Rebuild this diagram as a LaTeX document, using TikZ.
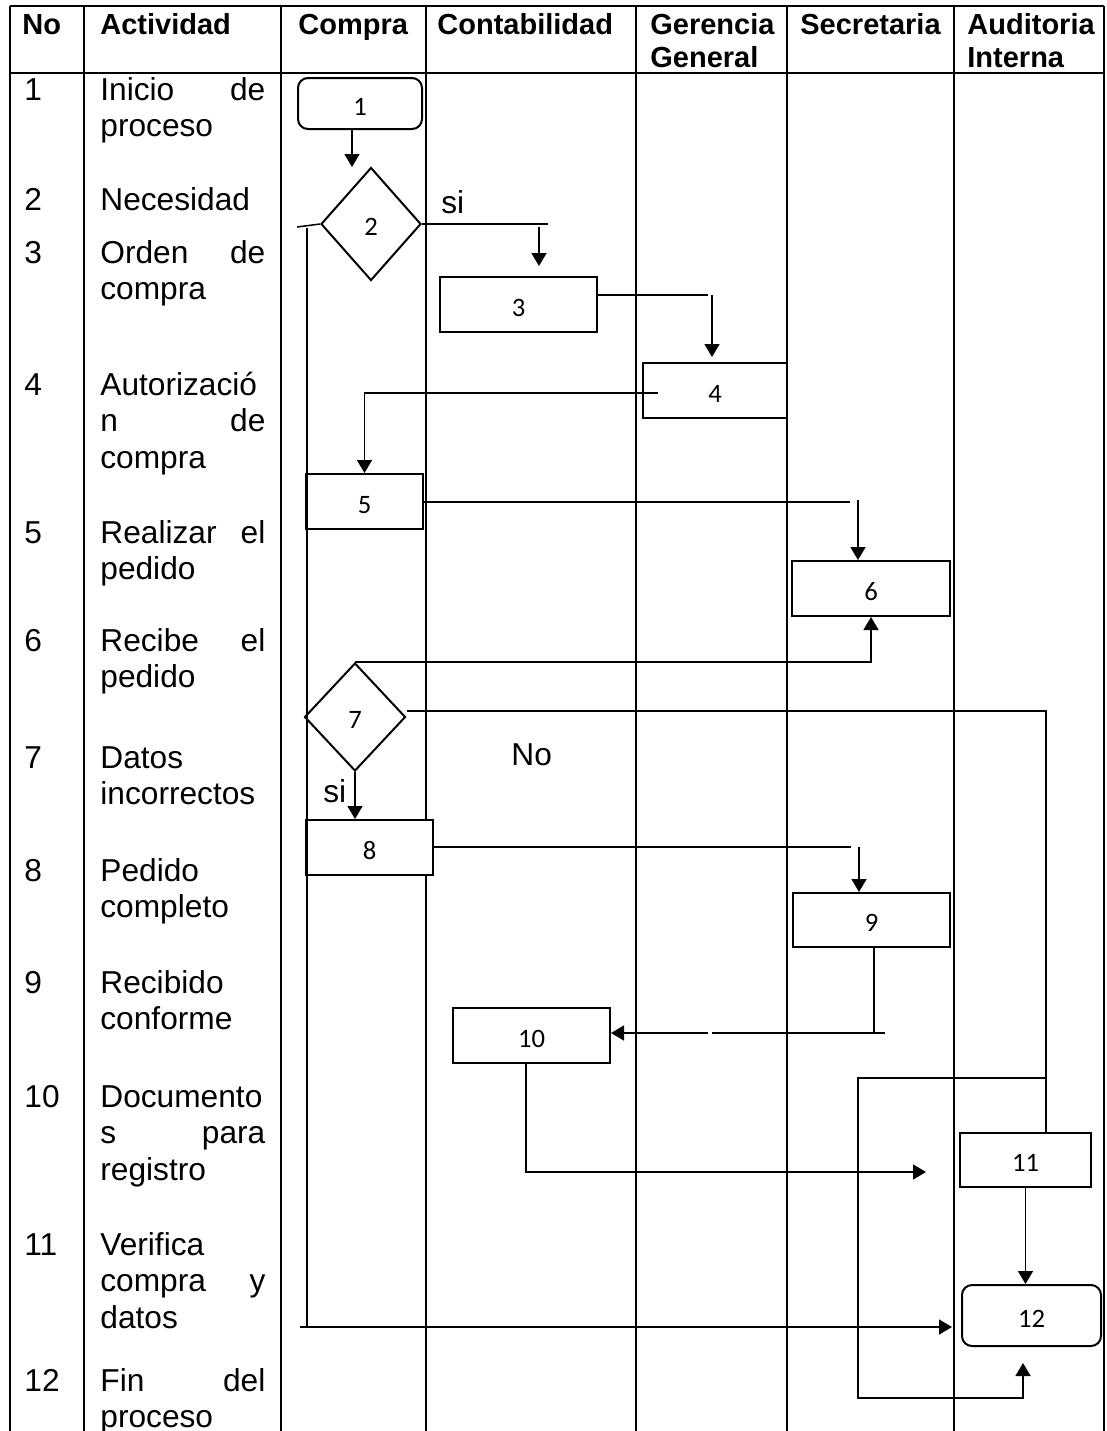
\documentclass[tikz,border=0pt]{standalone}
\usepackage{fontspec}
\setmainfont{Liberation Sans}
\newfontfamily\boxfont{Carlito}
\usetikzlibrary{shapes.geometric,arrows.meta}

\tikzset{
  grid/.style={line width=1pt},
  hdr/.style={font=\bfseries\fontsize{14.5}{16.7}\selectfont, anchor=base west, inner sep=0pt, text width=90pt, align=left},
  act/.style={font=\fontsize{15.84}{18.25}\selectfont, anchor=base west, inner sep=0pt, text width=82.5pt},
  rowno/.style={font=\fontsize{15.84}{18.25}\selectfont, anchor=base west, inner sep=0pt},
  proc/.style={draw, line width=1pt, fill=white, inner sep=0pt, text height=11.5pt, text depth=0pt, font=\boxfont\fontsize{13.3}{14}\selectfont},
  term/.style={proc, rounded corners=5pt},
  deci/.style={proc, diamond},
  conn/.style={line width=0.75pt},
  arr/.style={conn, -{Triangle[length=6.5pt,width=7.5pt]}},
  lbl/.style={font=\fontsize{15.84}{18}\selectfont, anchor=base west, inner sep=0pt},
}

\begin{document}
\begin{tikzpicture}[x=0.5pt,y=-0.5pt]
  \useasboundingbox (0,0) rectangle (1107,1431);

  % table
  \draw[grid] (10,6) -- (1104,6) (10,73) -- (1104,73);
  \draw[grid] (10,6) -- (10,1431) (84,6) -- (84,1431) (281,6) -- (281,1431)
    (426,6) -- (426,1431) (636,6) -- (636,1431) (787,6) -- (787,1431)
    (954,6) -- (954,1431) (1104,6) -- (1104,1431);

  \node[hdr] (hNo) at (22,34) {No};
  \node[hdr] (hAct) at (100,34) {Actividad};
  \node[hdr] (hCom) at (298,34) {Compra};
  \node[hdr] (hCon) at (437,34) {Contabilidad};
  \node[hdr] (hGer) at (650,34) {Gerencia\\General};
  \node[hdr] (hSec) at (800,34) {Secretaria};
  \node[hdr] (hAud) at (967,34) {Auditoria\\Interna};

  % activities
  \node[rowno] (no1) at (24,100) {1};
  \node[act] (r1) at (100,100) {Inicio\hfill de\\proceso};
  \node[rowno] (no2) at (24,210) {2};
  \node[act] (r2) at (100,210) {Necesidad};
  \node[rowno] (no3) at (24,263) {3};
  \node[act] (r3) at (100,263) {Orden\hfill de\\compra};
  \node[rowno] (no4) at (24,395) {4};
  \node[act] (r4) at (100,395) {Autorizació\\n\hfill de\\compra};
  \node[rowno] (no5) at (24,543) {5};
  \node[act] (r5) at (100,543) {Realizar\hfill el\\pedido};
  \node[rowno] (no6) at (24,651) {6};
  \node[act] (r6) at (100,651) {Recibe\hfill el\\pedido};
  \node[rowno] (no7) at (24,768) {7};
  \node[act] (r7) at (100,768) {Datos\\incorrectos};
  \node[rowno] (no8) at (24,881) {8};
  \node[act] (r8) at (100,881) {Pedido\\completo};
  \node[rowno] (no9) at (24,993) {9};
  \node[act] (r9) at (100,993) {Recibido\\conforme};
  \node[rowno] (no10) at (24,1107) {10};
  \node[act] (r10) at (100,1107) {Documento\\s\hfill para\\registro};
  \node[rowno] (no11) at (24,1255) {11};
  \node[act] (r11) at (100,1255) {Verifica\\compra\hfill y\\datos};
  \node[rowno] (no12) at (24,1391) {12};
  \node[act] (r12) at (100,1391) {Fin\hfill del\\proceso};

  % flow shapes
  \node[term, minimum width=62pt, minimum height=25.5pt] (n1) at (360,103.5) {1};
  \node[deci, minimum width=50pt, minimum height=56.5pt] (n2) at (371,224) {2};
  \node[proc, minimum width=78.5pt, minimum height=27.5pt] (n3) at (518.5,304.5) {3};
  \node[proc, minimum width=72pt, minimum height=27.5pt] (n4) at (715,390.5) {4};
  \node[proc, minimum width=58.5pt, minimum height=27.5pt] (n5) at (364.5,501.5) {5};
  \node[proc, minimum width=79pt, minimum height=27.5pt] (n6) at (871,588.5) {6};
  \node[deci, minimum width=50.5pt, minimum height=54pt] (n7) at (355,717) {7};
  \node[proc, minimum width=63.5pt, minimum height=27.5pt] (n8) at (369.5,847.5) {8};
  \node[proc, minimum width=78.5pt, minimum height=27pt] (n9) at (871.5,920) {9};
  \node[proc, minimum width=78.5pt, minimum height=27.5pt] (n10) at (531.5,1035.5) {10};
  \node[proc, minimum width=65.5pt, minimum height=27pt] (n11) at (1025.5,1160) {11};
  \node[term, minimum width=69.5pt, minimum height=30.5pt] (n12) at (1031.5,1315.5) {12};

  % connectors
  \coordinate (a12) at (352,167);
  \draw[arr] (n1.south -| a12) -- (a12);

  \coordinate (s2) at (548,224);
  \draw[conn] (n2.east) -- (s2);
  \coordinate (t23) at (539,227);
  \coordinate (a23) at (539,266);
  \draw[arr] (t23) -- (a23);
  \node[lbl] (si2) at (441,213) {si};

  \coordinate (s34) at (708,295);
  \draw[conn] (n3.east |- s34) -- (s34);
  \coordinate (t34) at (712,295);
  \coordinate (a34) at (712,357);
  \draw[arr] (t34) -- (a34);

  \coordinate (s45) at (658,393);
  \draw[arr] (s45) -| (n5.north);

  \coordinate (s56) at (850,502);
  \draw[conn] (n5.east |- s56) -- (s56);
  \coordinate (t56) at (858,500);
  \draw[arr] (t56) -- (t56 |- n6.north);

  \draw[arr] (n7.north) -| (n6.south);

  \coordinate (k7) at (1046,711);
  \draw[conn] (n7.east |- k7) -- (k7) -- (k7 |- n11.north);
  \node[lbl] (no7l) at (511,765) {No};

  \draw[arr] (n7.south) -- (n7.south |- n8.north);
  \node[lbl] (si7) at (323,802) {si};

  \coordinate (s89) at (851,847);
  \draw[conn] (n8.east |- s89) -- (s89);
  \coordinate (t89) at (859,847);
  \draw[arr] (t89) -- (t89 |- n9.north);

  \coordinate (k9) at (874,1033);
  \draw[conn] (n9.south -| k9) -- (k9);
  \coordinate (s910) at (885,1033);
  \coordinate (e910) at (712,1033);
  \draw[conn] (s910) -- (e910);
  \coordinate (t910) at (708,1033);
  \draw[arr] (t910) -- (t910 -| n10.east);

  \coordinate (k10) at (526,1172);
  \coordinate (a1011) at (926,1172);
  \draw[arr] (n10.south -| k10) -- (k10) -- (a1011);

  \draw[arr] (n11.south) -- (n11.south |- n12.north);

  \coordinate (c2t) at (297,227);
  \draw[conn] (n2.west) -- (c2t);
  \coordinate (k2) at (307,228);
  \coordinate (a212) at (952,1327);
  \draw[arr] (k2) |- (a212);
  \coordinate (s212) at (300,1327);
  \draw[conn] (s212) -- (k2 |- a212);

  \coordinate (b1) at (1046,1078);
  \coordinate (b2) at (858,1398);
  \coordinate (a12b) at (1023,1363);
  \draw[arr] (b1) -| (b2) -| (a12b);
\end{tikzpicture}
\end{document}
